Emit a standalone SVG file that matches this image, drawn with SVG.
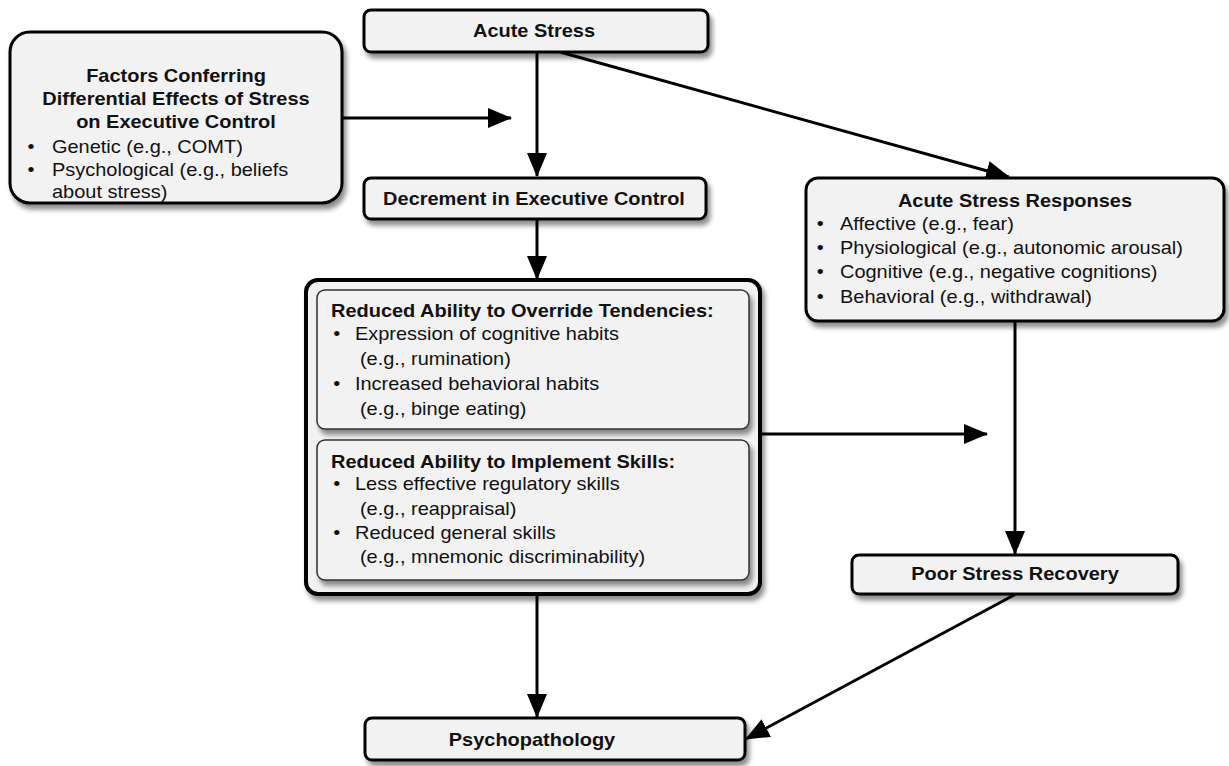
<svg xmlns="http://www.w3.org/2000/svg" width="1229" height="766" viewBox="0 0 1229 766">
<style>
.box{fill:#f2f2f2;stroke:#000;stroke-width:3}
.t{font-family:"Liberation Sans",Arial,sans-serif;font-size:18px;fill:#111}
.b{font-weight:bold}
.c{text-anchor:middle}
.ln{stroke:#000;stroke-width:3;fill:none}
</style>
<defs>
<filter id="sh" x="-10%" y="-10%" width="130%" height="140%">
<feGaussianBlur in="SourceAlpha" stdDeviation="2.5"/>
<feOffset dx="3" dy="5" result="o"/>
<feComponentTransfer><feFuncA type="linear" slope="0.45"/></feComponentTransfer>
<feMerge><feMergeNode/><feMergeNode in="SourceGraphic"/></feMerge>
</filter>
<marker id="ah" markerUnits="userSpaceOnUse" markerWidth="26" markerHeight="22" refX="23" refY="10" orient="auto">
<path d="M0,0 L24,10 L0,20 z" fill="#000"/>
</marker>
</defs>
<g id="connectors">
<line class="ln" x1="343" y1="118" x2="511" y2="118" marker-end="url(#ah)"/>
<line class="ln" x1="537" y1="52" x2="537" y2="176" marker-end="url(#ah)"/>
<line class="ln" x1="537" y1="219" x2="537" y2="279" marker-end="url(#ah)"/>
<line class="ln" x1="560" y1="52" x2="1009" y2="177" marker-end="url(#ah)"/>
<line class="ln" x1="760" y1="434" x2="987" y2="434" marker-end="url(#ah)"/>
<line class="ln" x1="1015" y1="321" x2="1015" y2="554" marker-end="url(#ah)"/>
<line class="ln" x1="537" y1="594" x2="537" y2="717" marker-end="url(#ah)"/>
<line class="ln" x1="1016" y1="594" x2="746" y2="739" marker-end="url(#ah)"/>
</g>
<g id="acute-stress">
<rect class="box" x="364" y="10" width="344" height="42" rx="7" filter="url(#sh)"/>
<text class="t b c" x="534" y="37" transform="matrix(1.11 0 0 1 -58.74 0)">Acute Stress</text>
</g>
<g id="factors">
<rect class="box" x="10" y="32" width="332" height="171" rx="20" filter="url(#sh)"/>
<g transform="matrix(1.11 0 0 1 -19.36 0)">
<text class="t b c" x="176" y="82">Factors Conferring</text>
<text class="t b c" x="176" y="105">Differential Effects of Stress</text>
<text class="t b c" x="176" y="128">on Executive Control</text>
</g>
<g transform="matrix(1.11 0 0 1 -5.72 0)">
<text class="t" x="30" y="153">•</text>
<text class="t" x="52" y="153">Genetic (e.g., COMT)</text>
<text class="t" x="30" y="176">•</text>
<text class="t" x="52" y="176">Psychological (e.g., beliefs</text>
<text class="t" x="52" y="198">about stress)</text>
</g>
</g>
<g id="decrement">
<rect class="box" x="364" y="178" width="342" height="41" rx="7" filter="url(#sh)"/>
<text class="t b c" x="534" y="205" transform="matrix(1.11 0 0 1 -58.74 0)">Decrement in Executive Control</text>
</g>
<g id="reduced-ability">
<rect x="306" y="280" width="454" height="314" rx="12" fill="#f2f2f2" stroke="#000" stroke-width="4" filter="url(#sh)"/>
<rect x="317" y="290" width="432" height="139" rx="8" fill="#f2f2f2" stroke="#333" stroke-width="1.5" filter="url(#sh)"/>
<rect x="317" y="440" width="432" height="140" rx="8" fill="#f2f2f2" stroke="#333" stroke-width="1.5" filter="url(#sh)"/>
<g transform="matrix(1.11 0 0 1 -36.41 0)">
<text class="t b" x="331" y="317">Reduced Ability to Override Tendencies:</text>
<text class="t" x="333" y="340">•</text>
<text class="t" x="352.6" y="340">Expression of cognitive habits</text>
<text class="t" x="357.1" y="365">(e.g., rumination)</text>
<text class="t" x="333" y="390">•</text>
<text class="t" x="352.6" y="390">Increased behavioral habits</text>
<text class="t" x="357.1" y="415">(e.g., binge eating)</text>
<text class="t b" x="331" y="468">Reduced Ability to Implement Skills:</text>
<text class="t" x="333" y="490">•</text>
<text class="t" x="352.6" y="490">Less effective regulatory skills</text>
<text class="t" x="357.1" y="515">(e.g., reappraisal)</text>
<text class="t" x="333" y="539">•</text>
<text class="t" x="352.6" y="539">Reduced general skills</text>
<text class="t" x="357.1" y="563">(e.g., mnemonic discriminability)</text>
</g>
</g>
<g id="acute-stress-responses">
<rect class="box" x="806" y="178" width="418" height="143" rx="12" filter="url(#sh)"/>
<text class="t b c" x="1015" y="207" transform="matrix(1.11 0 0 1 -111.65 0)">Acute Stress Responses</text>
<g transform="matrix(1.11 0 0 1 -92.4 0)">
<text class="t" x="819" y="230">•</text>
<text class="t" x="840" y="230">Affective (e.g., fear)</text>
<text class="t" x="819" y="254">•</text>
<text class="t" x="840" y="254">Physiological (e.g., autonomic arousal)</text>
<text class="t" x="819" y="278">•</text>
<text class="t" x="840" y="278">Cognitive (e.g., negative cognitions)</text>
<text class="t" x="819" y="303">•</text>
<text class="t" x="840" y="303">Behavioral (e.g., withdrawal)</text>
</g>
</g>
<g id="poor-stress-recovery">
<rect class="box" x="852" y="555" width="326" height="39" rx="7" filter="url(#sh)"/>
<text class="t b c" x="1015" y="580" transform="matrix(1.11 0 0 1 -111.65 0)">Poor Stress Recovery</text>
</g>
<g id="psychopathology">
<rect class="box" x="365" y="718" width="380" height="42" rx="7" filter="url(#sh)"/>
<text class="t b c" x="532" y="746" transform="matrix(1.11 0 0 1 -58.52 0)">Psychopathology</text>
</g>
</svg>
